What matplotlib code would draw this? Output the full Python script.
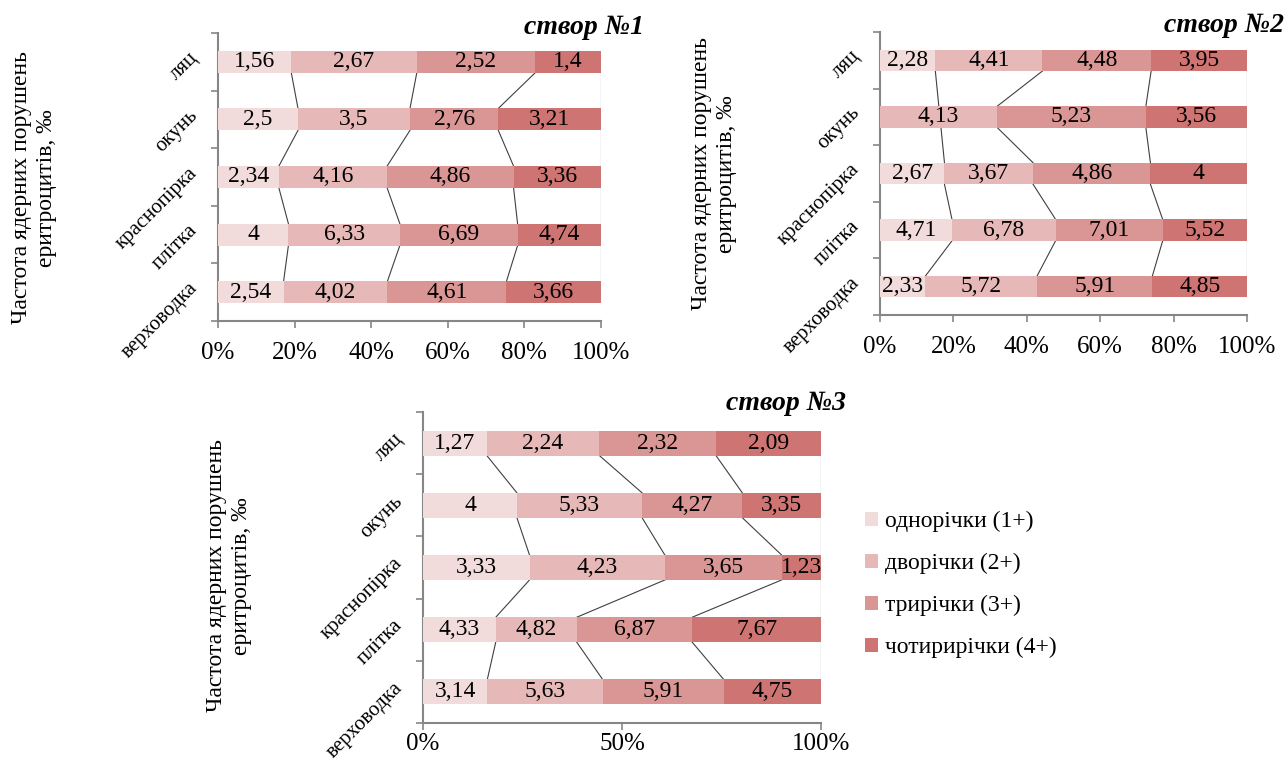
import numpy as np
import matplotlib
matplotlib.use("Agg")
import matplotlib.pyplot as plt
from matplotlib.patches import Patch

plt.rcParams['font.family'] = ['Liberation Serif', 'DejaVu Serif']

categories = ["ляц", "окунь", "краснопірка", "плітка", "верховодка"]
series_names = ["однорічки (1+)", "дворічки (2+)", "трирічки (3+)", "чотирирічки (4+)"]
colors = ["#F2DCDB", "#E6B9B8", "#D99694", "#CE7472"]

# rows: categories, columns: age groups
stvor1 = [[1.56, 2.67, 2.52, 1.40],
          [2.50, 3.50, 2.76, 3.21],
          [2.34, 4.16, 4.86, 3.36],
          [4.00, 6.33, 6.69, 4.74],
          [2.54, 4.02, 4.61, 3.66]]
stvor2 = [[2.28, 4.41, 4.48, 3.95],
          [np.nan, 4.13, 5.23, 3.56],
          [2.67, 3.67, 4.86, 4.00],
          [4.71, 6.78, 7.01, 5.52],
          [2.33, 5.72, 5.91, 4.85]]
stvor3 = [[1.27, 2.24, 2.32, 2.09],
          [4.00, 5.33, 4.27, 3.35],
          [3.33, 4.23, 3.65, 1.23],
          [4.33, 4.82, 6.87, 7.67],
          [3.14, 5.63, 5.91, 4.75]]
titles = ["створ №1", "створ №2", "створ №3"]
xticks1 = [0, 20, 40, 60, 80, 100]
xticks3 = [0, 50, 100]
ylabel = "Частота ядерних порушень\nеритроцитів, ‰"

W, H = 1288, 760
fig = plt.figure(figsize=(W / 100, H / 100), dpi=100)
fig.patch.set_facecolor("white")

def fx(px):
    return px / W

def fy(py):
    return 1 - py / H

def fmt(v):
    s = ("%.2f" % v).rstrip("0").rstrip(".")
    return s.replace(".", ",")

GRAY = "#868686"
LINE = "#404040"

def draw(box, data, xt, bar_h, title, title_xy, ylab_xy, xpad):
    l, t, r, b = box
    ax = fig.add_axes([fx(l), fy(b), fx(r) - fx(l), (b - t) / H])
    arr = np.array(data, dtype=float)
    filled = np.nan_to_num(arr)
    totals = filled.sum(axis=1)
    pct = filled / totals[:, None] * 100
    cum = np.cumsum(pct, axis=1)
    left = cum - pct
    y = np.arange(len(categories))
    for k in range(arr.shape[1]):
        for i in range(len(categories)):
            if np.isnan(arr[i, k]):
                continue
            ax.barh(y[i], pct[i, k], left=left[i, k], height=bar_h,
                    color=colors[k], edgecolor="none", zorder=3)
            ax.text(left[i, k] + pct[i, k] / 2, y[i], fmt(arr[i, k]),
                    ha="center", va="center", fontsize=17, zorder=4)
    # series lines
    for k in range(arr.shape[1]):
        valid = [i for i in range(len(categories)) if not np.isnan(arr[i, k])]
        for a, c in zip(valid[:-1], valid[1:]):
            ax.plot([cum[a, k], cum[c, k]], [y[a] + bar_h / 2, y[c] - bar_h / 2],
                    color=LINE, lw=0.8, zorder=2)
    ax.set_ylim(len(categories) - 0.5, -0.5)
    ax.set_xlim(0, 100)
    ax.set_xticks(xt)
    ax.set_xticklabels(["%d%%" % v for v in xt], fontsize=18)
    ax.set_yticks(y)
    ax.set_yticklabels(categories, fontsize=15, rotation=45,
                       ha="right", va="bottom", rotation_mode="anchor")
    ax.set_yticks(np.arange(-0.5, len(categories), 1), minor=True)
    ax.tick_params(axis="y", which="major", length=0, pad=12)
    ax.tick_params(axis="y", which="minor", length=5, color=GRAY, width=1.2, direction="out")
    ax.tick_params(axis="x", length=5, color=GRAY, width=1.2, pad=xpad)
    for s in ["top", "right"]:
        ax.spines[s].set_visible(False)
    for s in ["left", "bottom"]:
        ax.spines[s].set_color(GRAY)
        ax.spines[s].set_linewidth(1.5)
    ax.set_facecolor("none")
    fig.text(fx(title_xy[0]), fy(title_xy[1]), title, ha="right", va="center",
             fontsize=20, fontweight="bold", fontstyle="italic")
    fig.text(fx(ylab_xy[0]), fy(ylab_xy[1]), ylabel, ha="center", va="center",
             rotation=90, fontsize=17, multialignment="center", linespacing=1.25)
    return ax

draw((218, 33, 601, 321), stvor1, xticks1, 0.38, titles[0], (644, 28), (34, 188), 10)
draw((880, 32, 1247, 315), stvor2, xticks1, 0.38, titles[1], (1284, 25), (714, 174), 10)
draw((423, 412, 821, 723), stvor3, xticks3, 0.40, titles[2], (846, 404), (229, 576), 2.5)

handles = [Patch(facecolor=c, edgecolor="none") for c in colors]
fig.legend(handles, series_names, loc="upper left",
           bbox_to_anchor=(fx(865), fy(511)), frameon=False, fontsize=17,
           handlelength=0.55, handleheight=0.55, handletextpad=0.3,
           labelspacing=0.88, borderaxespad=0, borderpad=0)

fig.savefig("out.png", dpi=100, facecolor="white")
